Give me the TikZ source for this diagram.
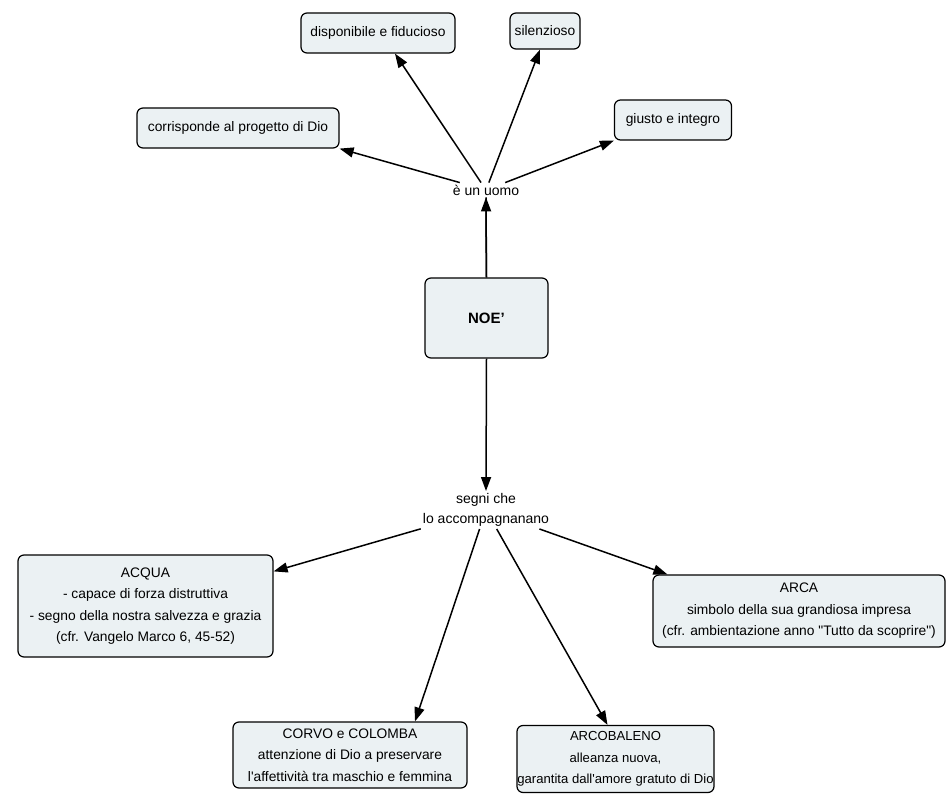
\documentclass[tikz,border=0pt]{standalone}
\usepackage{fontspec}
\setmainfont{Liberation Sans}[Ligatures=TeXOff]
\usetikzlibrary{arrows.meta}
\definecolor{boxfill}{HTML}{EBF1F3}
\begin{document}
\begin{tikzpicture}[x=1pt,y=-1pt,
  concept/.style={draw=black, line width=1.2pt, fill=boxfill, rounded corners=6pt,
    align=center, font=\fontsize{13.8}{21.5}\selectfont, inner sep=0pt},
  linklabel/.style={align=center, inner sep=2pt, font=\fontsize{14}{20.5}\selectfont},
  arr/.style={line width=1.5pt, -{Triangle[length=14pt,width=10pt]}}]
\useasboundingbox (0,0) rectangle (946,802);
% concepts
\node[concept, minimum width=202pt, minimum height=40pt] (corr) at (238,128) {corrisponde al progetto di Dio};
\node[concept, minimum width=154pt, minimum height=40pt] (disp) at (378,33) {disponibile e fiducioso};
\node[concept, minimum width=70pt, minimum height=36pt] (sil) at (545,31) {silenzioso};
\node[concept, minimum width=117pt, minimum height=40pt] (giusto) at (673,120) {giusto e integro};
\node[concept, minimum width=123pt, minimum height=80pt, font=\fontsize{15}{18}\selectfont\bfseries] (noe) at (486.5,318) {NOE’};
\node[concept, minimum width=255pt, minimum height=102pt] (acqua) at (145.5,606) {ACQUA\\- capace di forza distruttiva\\- segno della nostra salvezza e grazia\\(cfr. Vangelo Marco 6, 45-52)};
\node[concept, minimum width=292pt, minimum height=72pt] (arca) at (799,611) {ARCA\\simbolo della sua grandiosa impresa\\(cfr. ambientazione anno "Tutto da scoprire")};
\node[concept, minimum width=234pt, minimum height=66pt] (corvo) at (350,755) {CORVO e COLOMBA\\attenzione di Dio a preservare\\l'affettività tra maschio e femmina};
\node[concept, minimum width=197pt, minimum height=67pt, font=\fontsize{13.1}{21.5}\selectfont] (arco) at (615.5,759) {ARCOBALENO\\alleanza nuova,\\garantita dall'amore gratuto di Dio};
% linking phrases
\node[linklabel] (uomo) at (486,190) {è un uomo};
\node[linklabel] (segni) at (486,510) {segni che\\lo accompagnanano};
% connectors
\draw[line width=1.5pt] (noe) -- (uomo);
\draw[arr] (noe.north) -- (uomo.south);
\draw[arr] (uomo) -- (corr.south east);
\draw[arr] (uomo) -- ([xshift=17pt]disp.south);
\draw[arr] (uomo) -- ([xshift=-5pt]sil.south);
\draw[arr] (uomo) -- (giusto.south west);
\draw[arr] (noe.south) -- (segni.north);
\draw[arr] (segni) -- ([yshift=-17pt]acqua.north east);
\draw[arr] (segni) -- ([xshift=65pt]corvo.north);
\draw[arr] (segni) -- ([xshift=-8pt]arco.north);
\draw[arr] (segni) -- ([xshift=15pt]arca.north west);
\end{tikzpicture}
\end{document}
